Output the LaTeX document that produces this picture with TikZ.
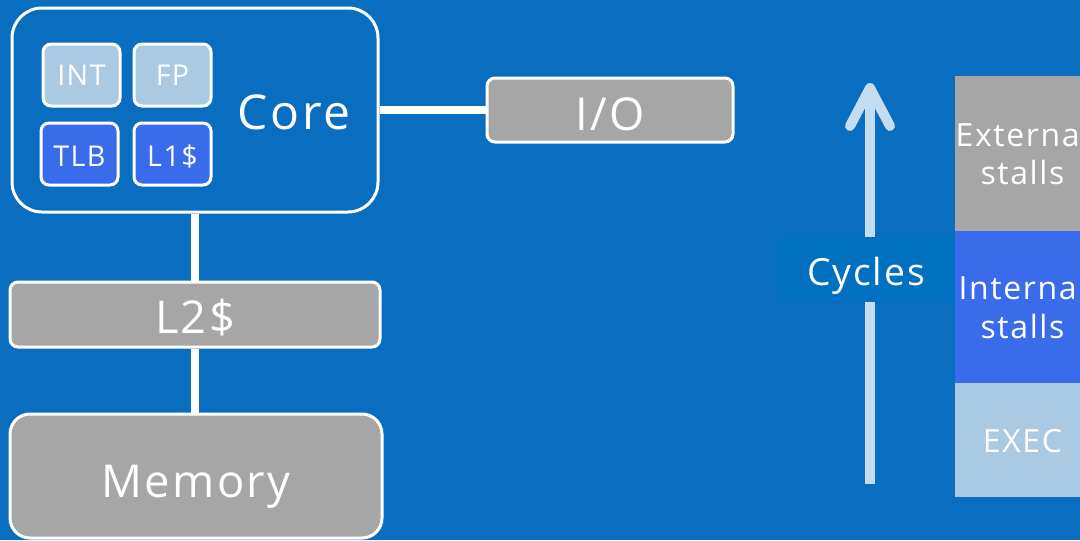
\documentclass[tikz,border=0pt]{standalone}
\usepackage{fontspec}
\setmainfont{Open Sans}[LetterSpace=5]
\definecolor{bg}{RGB}{10,110,192}
\definecolor{lblbg}{RGB}{0,112,192}
\definecolor{boxgray}{RGB}{166,166,166}
\definecolor{lblue}{RGB}{169,202,226}
\definecolor{mblue}{RGB}{58,107,234}
\definecolor{arrowc}{RGB}{197,220,238}
\tikzset{
  px/.style={x=0.75pt,y=-0.75pt},
  unit/.style={draw=white, line width=2.25pt, rounded corners=6pt, text=white, inner sep=0pt},
  bigtxt/.style={font=\fontsize{34}{40}\selectfont, text depth=0pt},
  smalltxt/.style={font=\fontsize{21.5}{25}\selectfont, text depth=0pt},
  barbox/.style={inner sep=0pt, text=white, align=center, font=\fontsize{24}{29}\selectfont},
  link/.style={white, line width=6pt},
}
\begin{document}
\begin{tikzpicture}[px]
\useasboundingbox (0,0) rectangle (1080,540);
\clip (0,0) rectangle (1080,540);
\fill[bg] (0,0) rectangle (1080,540);

% Core block
\node[unit, rounded corners=22.5pt, fill=bg, minimum width=366*0.75pt, minimum height=204*0.75pt] (core) at (195,110) {};
\node[unit, fill=lblue, minimum width=77*0.75pt, minimum height=62*0.75pt, smalltxt, text height=15pt] (int) at (81.5,75) {INT};
\node[unit, fill=lblue, minimum width=77*0.75pt, minimum height=62*0.75pt, smalltxt, text height=15pt] (fp) at (172.5,75) {FP};
\node[unit, fill=mblue, minimum width=77*0.75pt, minimum height=62*0.75pt, smalltxt, text height=18pt] (tlb) at (79.5,154) {TLB};
\node[unit, fill=mblue, minimum width=77*0.75pt, minimum height=62*0.75pt, smalltxt, text height=18pt] (l1) at (172.5,154) {L1\$};
\node[text=white, font=\fontsize{36}{42}\selectfont, inner sep=0pt, text height=25.7pt, text depth=0pt] (coretxt) at (294,112.5) {Core};

% I/O, L2, Memory
\node[unit, fill=boxgray, minimum width=246*0.75pt, minimum height=64*0.75pt, bigtxt, text height=30pt] (io) at (610,110) {I/O};
\node[unit, fill=boxgray, minimum width=370*0.75pt, minimum height=65*0.75pt, bigtxt, text height=27.75pt] (l2) at (195,314.5) {L2\$};
\node[unit, rounded corners=15pt, fill=boxgray, minimum width=372*0.75pt, minimum height=124*0.75pt, bigtxt, text height=31.5pt] (mem) at (196,476) {Memory};

\draw[link] (core.east) -- (io.west);
\draw[link] (core.south) -- (l2.north);
\draw[link] (l2.south) -- (l2.south |- mem.north);

% Cycles arrow
\coordinate (cbot) at (870,484);
\coordinate (ctop) at (870,88);
\coordinate (hl) at (850,126);
\coordinate (hr) at (890,126);
\draw[arrowc, line width=7.5pt] (cbot) -- (ctop);
\draw[arrowc, line width=7.5pt, line cap=round, line join=round] (hl) -- (ctop) -- (hr);
\node[fill=lblbg, text=white, inner sep=0pt, minimum width=177*0.75pt, minimum height=65*0.75pt, font=\fontsize{28}{34}\selectfont, text height=23.25pt, text depth=0pt] (cyc) at (866,269.5) {Cycles};

% Stacked bar
\node[barbox, fill=boxgray, minimum width=135*0.75pt, minimum height=155*0.75pt] (ext) at (1022.5,153.5) {External\\stalls};
\node[barbox, fill=mblue, minimum width=135*0.75pt, minimum height=152*0.75pt] (intst) at (1022.5,307) {Internal\\stalls};
\node[barbox, fill=lblue, minimum width=135*0.75pt, minimum height=114*0.75pt, text height=18pt, text depth=0pt] (exec) at (1022.5,440) {EXEC};
\end{tikzpicture}
\end{document}
